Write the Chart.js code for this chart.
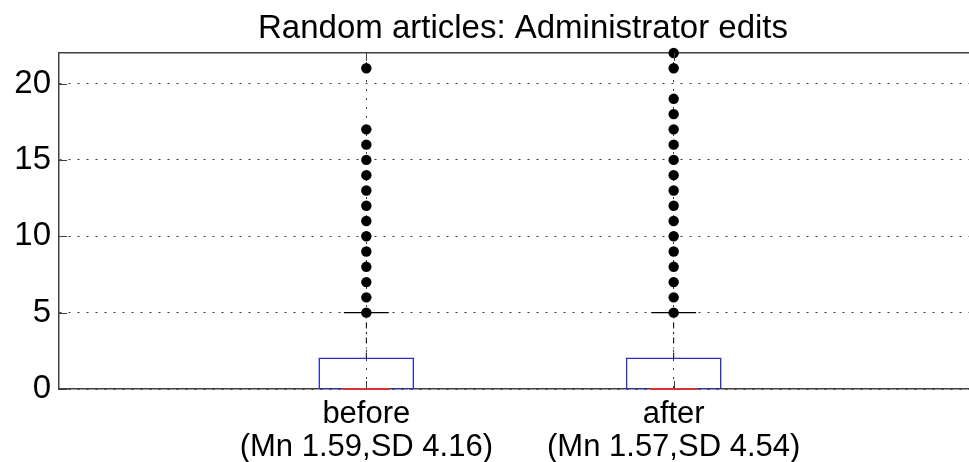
<!DOCTYPE html>
<html>
<head>
<meta charset="utf-8">
<script src="https://cdn.jsdelivr.net/npm/chart.js@4"></script>
<style>
  html, body { margin: 0; padding: 0; overflow: hidden; background: #fff; }
  #wrap { width: 990px; height: 480px; }
</style>
</head>
<body>
<div id="wrap"><canvas id="boxChart" width="990" height="480"></canvas></div>
<script>
// groups and their positions on the x axis
const groups = ["before", "after"];
const positions = [1, 2];
const groupLabels = [["before", "(Mn 1.59,SD 4.16)"], ["after", "(Mn 1.57,SD 4.54)"]];

// box statistics
const q1 = [0, 0];
const median = [0, 0];
const q3 = [2, 2];
const whiskerHigh = [5, 5];

// points drawn above the upper whisker
const outliersBefore = [5, 6, 7, 8, 9, 10, 11, 12, 13, 14, 15, 16, 17, 21];
const outliersAfter = [5, 6, 7, 8, 9, 10, 11, 12, 13, 14, 15, 16, 17, 18, 19, 21, 22];
const outliers = [outliersBefore, outliersAfter];

// y axis ticks
const yTicks = [0, 5, 10, 15, 20];

const boxHalf = 0.153;
const capHalf = 0.073;
const FONT = "'Liberation Sans', Arial, sans-serif";

const datasets = [];
groups.forEach((g, i) => {
    const p = positions[i];
    // box outline
    datasets.push({
        type: "line",
        order: 3,
        data: [
            { x: p - boxHalf, y: q1[i] }, { x: p + boxHalf, y: q1[i] },
            { x: p + boxHalf, y: q3[i] }, { x: p - boxHalf, y: q3[i] },
            { x: p - boxHalf, y: q1[i] }
        ],
        borderColor: "#2a2ad0",
        borderWidth: 1.3,
        pointRadius: 0,
        fill: false,
        tension: 0
    });
    // median
    datasets.push({
        type: "line",
        order: 1,
        data: [{ x: p - boxHalf / 2, y: median[i] }, { x: p + boxHalf / 2, y: median[i] }],
        borderColor: "#e0303a",
        borderWidth: 2,
        pointRadius: 0,
        clip: false
    });
    // upper whisker
    datasets.push({
        type: "line",
        order: 2,
        data: [{ x: p, y: q3[i] }, { x: p, y: whiskerHigh[i] }],
        borderColor: "#000",
        borderWidth: 1,
        borderDash: [6, 4, 1, 4],
        pointRadius: 0
    });
    // whisker cap
    datasets.push({
        type: "line",
        order: 2,
        data: [{ x: p - capHalf, y: whiskerHigh[i] }, { x: p + capHalf, y: whiskerHigh[i] }],
        borderColor: "#000",
        borderWidth: 1.2,
        pointRadius: 0
    });
    // outliers
    datasets.push({
        type: "line",
        order: 0,
        data: outliers[i].map(v => ({ x: p, y: v })),
        showLine: false,
        pointRadius: 5.2,
        pointBackgroundColor: "#000",
        pointBorderWidth: 0,
        clip: false
    });
});

// title and inward tick marks, MATLAB style
const axesDecor = {
    id: "axesDecor",
    afterDraw(chart) {
        const ctx = chart.ctx;
        const xs = chart.scales.x, ys = chart.scales.y;
        const area = chart.chartArea;
        ctx.save();
        ctx.strokeStyle = "#404040";
        ctx.lineWidth = 1;
        positions.forEach(p => {
            const px = Math.round(xs.getPixelForValue(p)) + 0.5;
            ctx.beginPath();
            ctx.moveTo(px, area.top); ctx.lineTo(px, area.top + 8);
            ctx.moveTo(px, area.bottom); ctx.lineTo(px, area.bottom - 8);
            ctx.stroke();
        });
        yTicks.forEach(v => {
            const py = Math.round(ys.getPixelForValue(v)) + 0.5;
            ctx.beginPath();
            ctx.moveTo(area.left, py); ctx.lineTo(area.left + 8, py);
            ctx.stroke();
        });
        ctx.fillStyle = "#000";
        ctx.font = "33px " + FONT;
        ctx.textAlign = "center";
        ctx.textBaseline = "alphabetic";
        const cx = (area.left + xs.getPixelForValue(3)) / 2 + 3;
        ctx.fillText("Random articles: Administrator edits", cx, 38);
        ctx.restore();
    }
};

Chart.defaults.font.family = FONT;
Chart.defaults.color = "#000";

new Chart(document.getElementById("boxChart"), {
    type: "line",
    data: { datasets: datasets },
    options: {
        responsive: false,
        animation: false,
        parsing: false,
        layout: { padding: { left: 0, top: 53, right: 9, bottom: 0 } },
        plugins: {
            legend: { display: false },
            title: { display: false },
            tooltip: { enabled: false }
        },
        scales: {
            x: {
                type: "linear",
                position: "bottom",
                min: 0,
                max: 3,
                afterBuildTicks: s => { s.ticks = positions.map(v => ({ value: v })); },
                afterFit: s => { s.height = 91; },
                ticks: {
                    font: { size: 31, lineHeight: 1.06 },
                    color: "#000",
                    padding: 9,
                    maxRotation: 0,
                    autoSkip: false,
                    callback: (v, i) => groupLabels[i]
                },
                grid: { color: "#3a3a3a", lineWidth: 1, drawTicks: false },
                border: { display: true, color: "#404040", width: 1.5, dash: [2, 7] }
            },
            x2: {
                type: "linear",
                position: "top",
                min: 0,
                max: 3,
                afterFit: s => { s.height = 0; },
                ticks: { display: false },
                grid: { display: false, drawTicks: false },
                border: { display: true, color: "#404040", width: 1.5 }
            },
            y: {
                type: "linear",
                min: 0,
                max: 22,
                afterBuildTicks: s => { s.ticks = yTicks.map(v => ({ value: v })); },
                afterFit: s => { s.width = 59; },
                ticks: { font: { size: 33 }, color: "#000", padding: 8 },
                grid: { color: "#3a3a3a", lineWidth: 1, drawTicks: false },
                border: { display: true, color: "#404040", width: 1.5, dash: [2, 7] }
            }
        }
    },
    plugins: [axesDecor]
});
</script>
</body>
</html>
